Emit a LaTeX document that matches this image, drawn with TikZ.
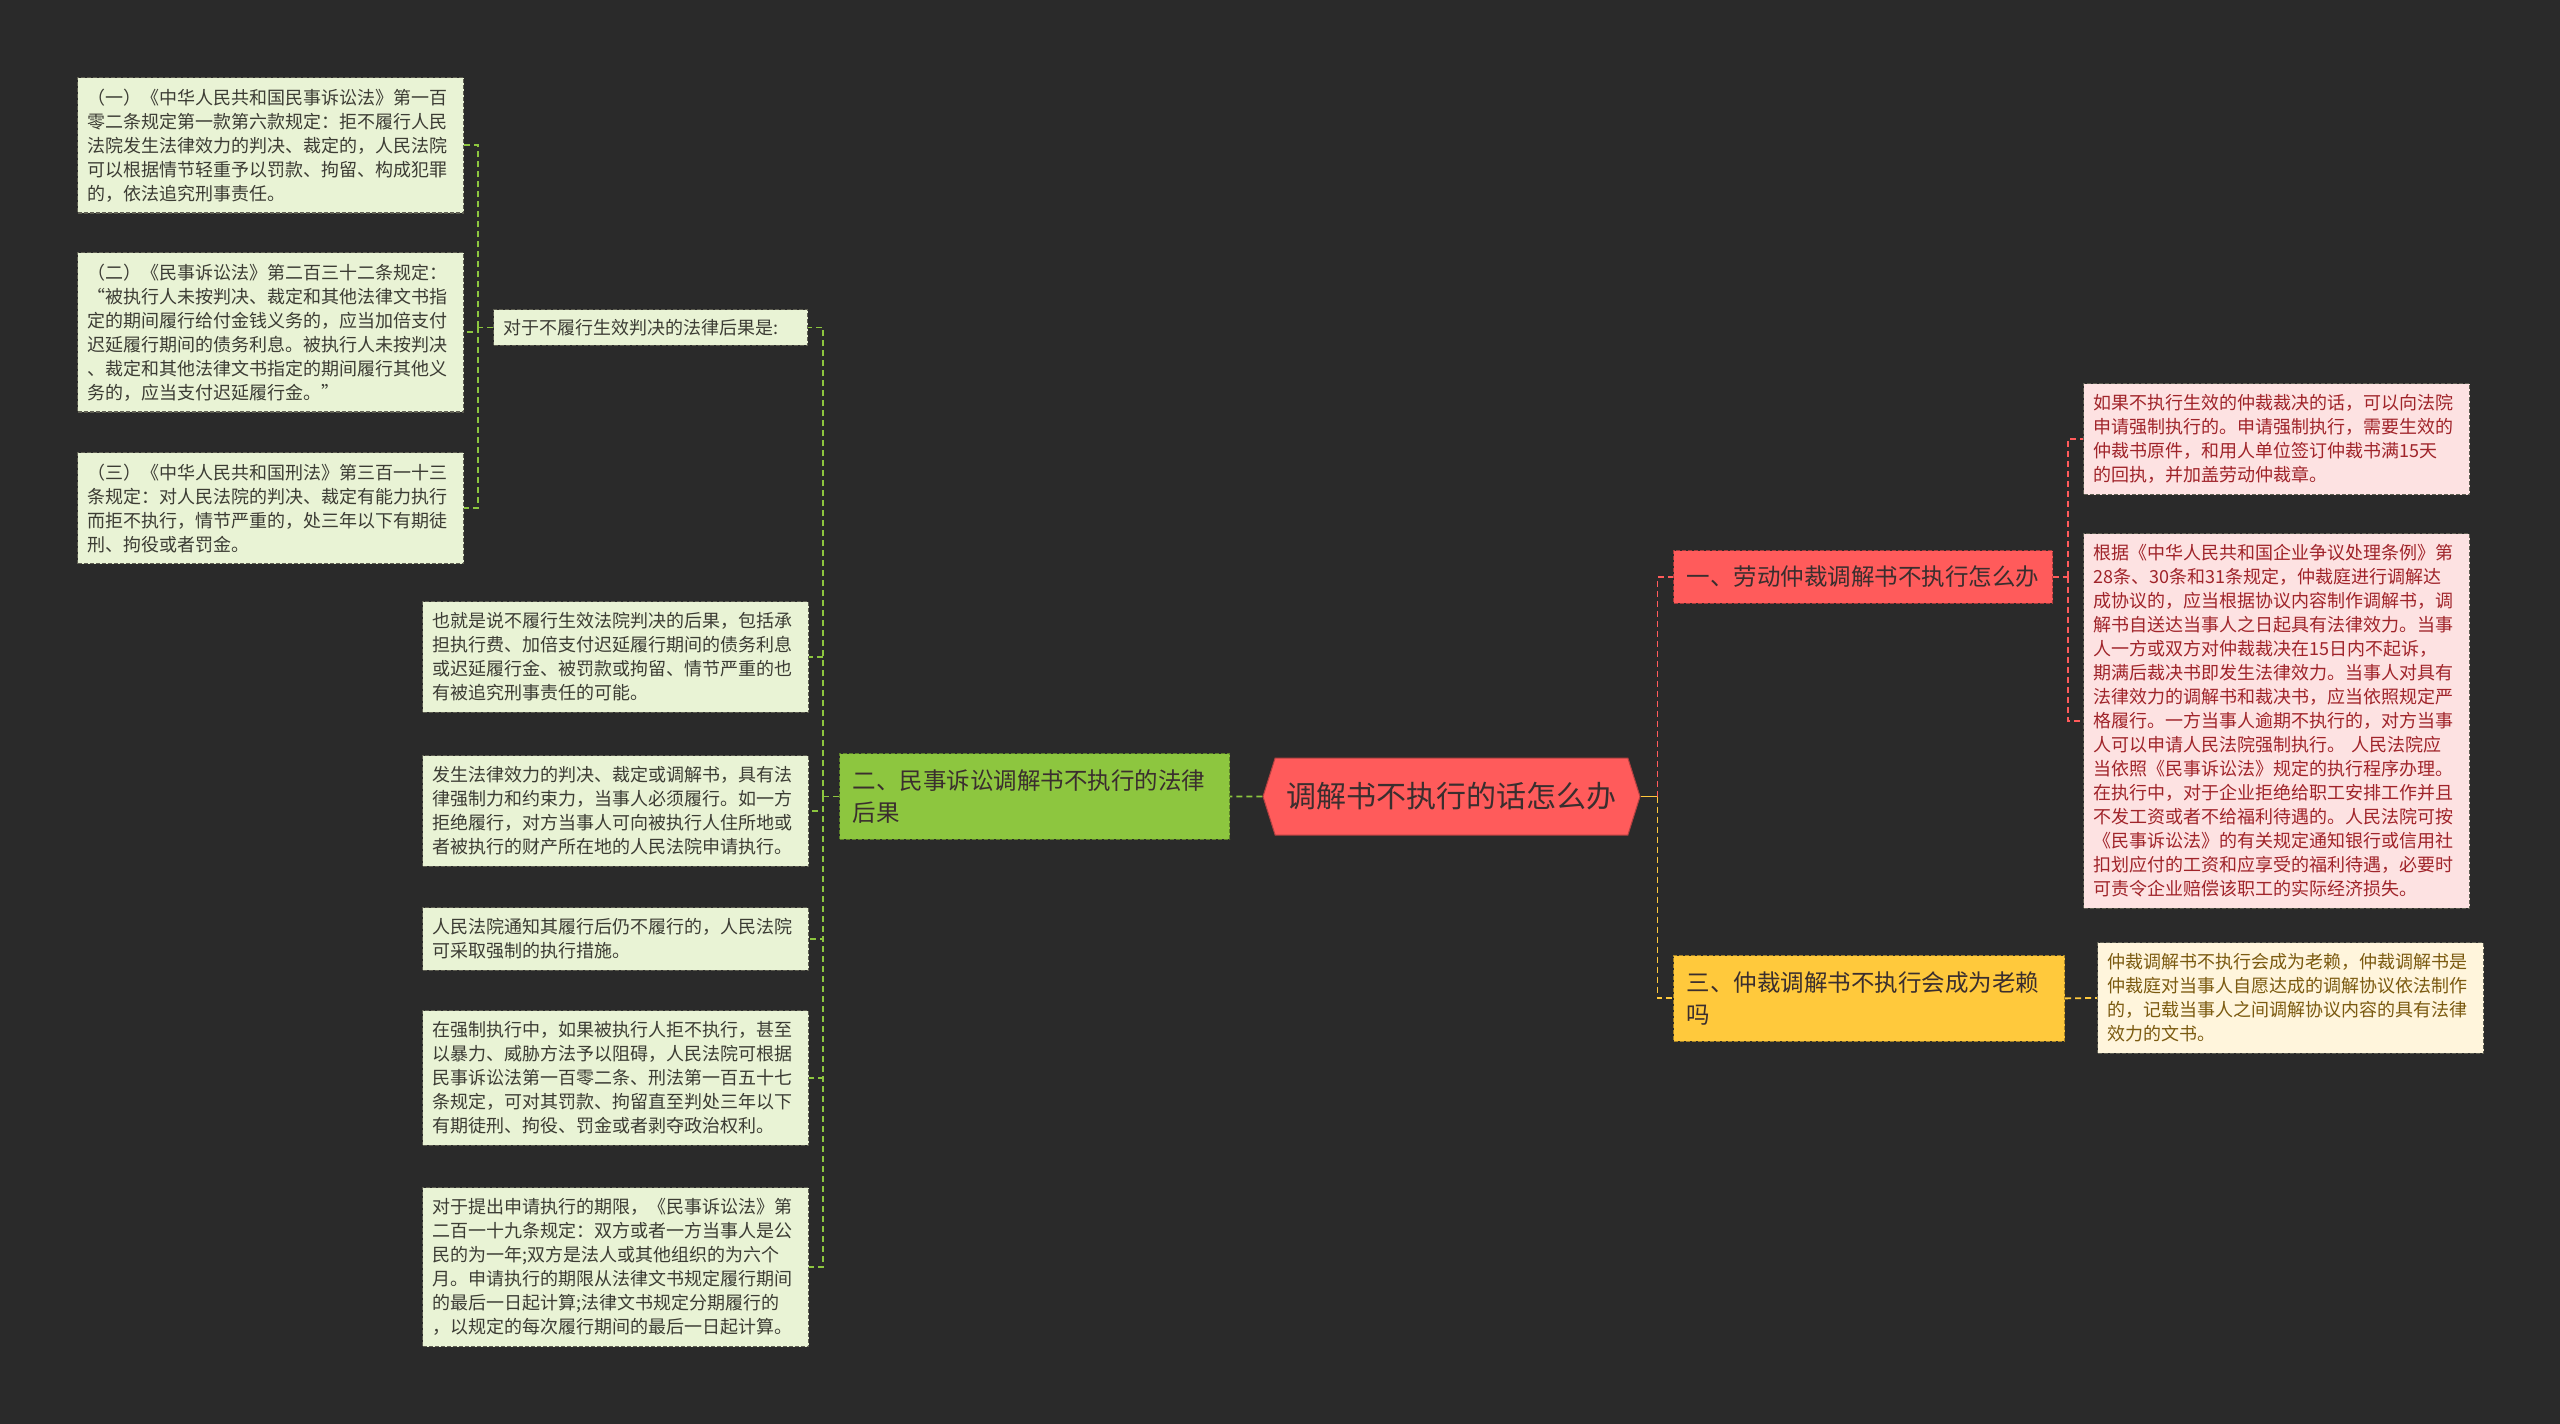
\documentclass[tikz,border=0pt]{standalone}
\usepackage{fontspec}
\setmainfont{Noto Sans CJK SC}
\usepackage{xcolor}
\usetikzlibrary{positioning, shapes.symbols}
\definecolor{canvas}{HTML}{2A2A2A}
\definecolor{rootred}{HTML}{FF5B5B}
\definecolor{darkink}{HTML}{3A2E2E}
\definecolor{leafgreen}{HTML}{8DC63F}
\definecolor{palegreen}{HTML}{E9F3D5}
\definecolor{greenink}{HTML}{3C3C34}
\definecolor{palepink}{HTML}{FDE2E2}
\definecolor{pinkink}{HTML}{A0242A}
\definecolor{gold}{HTML}{FFC93C}
\definecolor{palegold}{HTML}{FFF5DC}
\definecolor{goldink}{HTML}{7B5A10}
\definecolor{edgegray}{HTML}{5E5E52}

\begin{document}
\begin{tikzpicture}[
        x=1pt, y=-1pt,
        every node/.style={inner sep=0pt},
        root/.style={
            signal,
            signal to=west and east,
            signal pointer angle=145,
            fill=rootred,
            draw=rootred!70!black,
            line width=1pt,
            text=darkink,
            minimum width=377pt,
            minimum height=77pt,
            font=\fontsize{30}{36}\selectfont
        },
        branch/.style={
            anchor=north west,
            draw=#1!65!black,
            fill=#1,
            dash pattern=on 4pt off 2pt,
            line width=1.2pt,
            text=darkink,
            align=left,
            inner xsep=13pt,
            inner ysep=16pt,
            font=\fontsize{23.5}{32}\selectfont
        },
        leaf/.style 2 args={
            anchor=north west,
            draw=edgegray,
            fill=#1,
            text=#2,
            dash pattern=on 4pt off 2pt,
            line width=1.2pt,
            align=left,
            inner xsep=10pt,
            inner ysep=11pt,
            text width=366pt,
            font=\fontsize{18}{24}\selectfont
        },
        link/.style={line width=1.8pt, draw=#1, dash pattern=on 6pt off 4pt}
    ]
        \fill[canvas] (0,0) rectangle (2560,1424);
        \useasboundingbox (0,0) rectangle (2560,1424);

        \node[root] (root) at (1451.5,796.5) {调解书不执行的话怎么办};

        % left branch
        \node[branch=leafgreen, text width=364pt] (lawsuit) at (839,753) {二、民事诉讼调解书不执行的法律\\后果};
        \node[leaf={palegreen}{greenink}, text width=294pt, inner ysep=9.5pt] (consequence) at (493,309) {对于不履行生效判决的法律后果是:};

        \node[leaf={palegreen}{greenink}] (article1) at (77,77) {（一）《中华人民共和国民事诉讼法》第一百\\零二条规定第一款第六款规定：拒不履行人民\\法院发生法律效力的判决、裁定的，人民法院\\可以根据情节轻重予以罚款、拘留、构成犯罪\\的，依法追究刑事责任。};
        \node[leaf={palegreen}{greenink}] (article2) at (77,252) {（二）《民事诉讼法》第二百三十二条规定：\\“被执行人未按判决、裁定和其他法律文书指\\定的期间履行给付金钱义务的，应当加倍支付\\迟延履行期间的债务利息。被执行人未按判决\\、裁定和其他法律文书指定的期间履行其他义\\务的，应当支付迟延履行金。”};
        \node[leaf={palegreen}{greenink}] (article3) at (77,452) {（三）《中华人民共和国刑法》第三百一十三\\条规定：对人民法院的判决、裁定有能力执行\\而拒不执行，情节严重的，处三年以下有期徒\\刑、拘役或者罚金。};

        \node[leaf={palegreen}{greenink}] (liability) at (422,601) {也就是说不履行生效法院判决的后果，包括承\\担执行费、加倍支付迟延履行期间的债务利息\\或迟延履行金、被罚款或拘留、情节严重的也\\有被追究刑事责任的可能。};
        \node[leaf={palegreen}{greenink}] (apply) at (422,755) {发生法律效力的判决、裁定或调解书，具有法\\律强制力和约束力，当事人必须履行。如一方\\拒绝履行，对方当事人可向被执行人住所地或\\者被执行的财产所在地的人民法院申请执行。};
        \node[leaf={palegreen}{greenink}] (measures) at (422,907) {人民法院通知其履行后仍不履行的，人民法院\\可采取强制的执行措施。};
        \node[leaf={palegreen}{greenink}] (obstruct) at (422,1010) {在强制执行中，如果被执行人拒不执行，甚至\\以暴力、威胁方法予以阻碍，人民法院可根据\\民事诉讼法第一百零二条、刑法第一百五十七\\条规定，可对其罚款、拘留直至判处三年以下\\有期徒刑、拘役、罚金或者剥夺政治权利。};
        \node[leaf={palegreen}{greenink}] (deadline) at (422,1187) {对于提出申请执行的期限，《民事诉讼法》第\\二百一十九条规定：双方或者一方当事人是公\\民的为一年;双方是法人或其他组织的为六个\\月。申请执行的期限从法律文书规定履行期间\\的最后一日起计算;法律文书规定分期履行的\\，以规定的每次履行期间的最后一日起计算。};

        % right branches
        \node[branch=rootred, text width=353pt, inner ysep=15.5pt] (labor) at (1673,550) {一、劳动仲裁调解书不执行怎么办};
        \node[branch=gold, text width=365pt] (deadbeat) at (1673,955) {三、仲裁调解书不执行会成为老赖\\吗};

        \node[leaf={palepink}{pinkink}] (award) at (2083,383) {如果不执行生效的仲裁裁决的话，可以向法院\\申请强制执行的。申请强制执行，需要生效的\\仲裁书原件，和用人单位签订仲裁书满15天\\的回执，并加盖劳动仲裁章。};
        \node[leaf={palepink}{pinkink}] (regulation) at (2083,533) {根据《中华人民共和国企业争议处理条例》第\\28条、30条和31条规定，仲裁庭进行调解达\\成协议的，应当根据协议内容制作调解书，调\\解书自送达当事人之日起具有法律效力。当事\\人一方或双方对仲裁裁决在15日内不起诉，\\期满后裁决书即发生法律效力。当事人对具有\\法律效力的调解书和裁决书，应当依照规定严\\格履行。一方当事人逾期不执行的，对方当事\\人可以申请人民法院强制执行。 人民法院应\\当依照《民事诉讼法》规定的执行程序办理。\\在执行中，对于企业拒绝给职工安排工作并且\\不发工资或者不给福利待遇的。人民法院可按\\《民事诉讼法》的有关规定通知银行或信用社\\扣划应付的工资和应享受的福利待遇，必要时\\可责令企业赔偿该职工的实际经济损失。};
        \node[leaf={palegold}{goldink}] (document) at (2097,942) {仲裁调解书不执行会成为老赖，仲裁调解书是\\仲裁庭对当事人自愿达成的调解协议依法制作\\的，记载当事人之间调解协议内容的具有法律\\效力的文书。};

        % connectors
        \draw[link=leafgreen] (root.west) -- (lawsuit.east);
        \draw[link=leafgreen] (lawsuit.west) -- ++(-16,0) coordinate (lspine);
        \foreach \child in {consequence, liability, apply, measures, obstruct, deadline}
            \draw[link=leafgreen] (lspine) |- (\child.east);
        \draw[link=leafgreen] (consequence.west) -- ++(-15,0) coordinate (cspine);
        \foreach \child in {article1, article2, article3}
            \draw[link=leafgreen] (cspine) |- (\child.east);

        \draw[line width=1.8pt, draw=gold] (root.east) -- ++(17,0) coordinate (rspine);
        \draw[link=rootred] (rspine) |- (labor.west);
        \draw[link=gold] (rspine) |- (deadbeat.west);
        \draw[link=rootred] (labor.east) -- ++(15,0) coordinate (lbspine);
        \draw[link=rootred] (lbspine) |- (award.west);
        \draw[link=rootred] (lbspine) |- (regulation.west);
        \draw[link=gold] (deadbeat.east) -- (document.west);
    \end{tikzpicture}
\end{document}
